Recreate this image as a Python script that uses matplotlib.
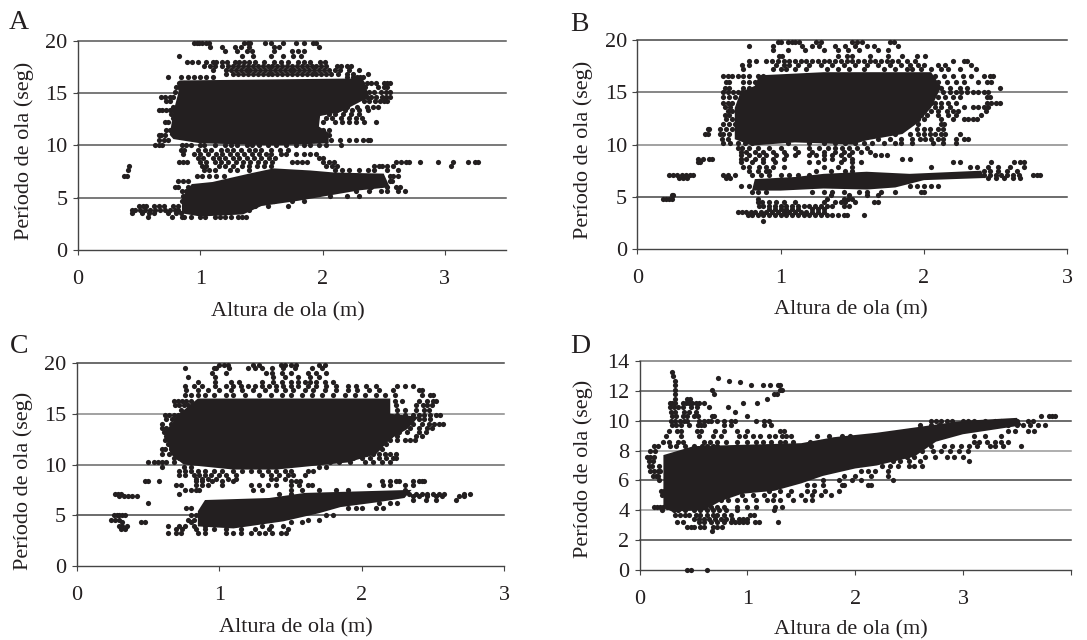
import matplotlib
matplotlib.use("Agg")
import matplotlib.pyplot as plt

FIG_W, FIG_H = 1087, 640
INK = "#231f20"

plt.rcParams['font.family'] = ['Liberation Serif', 'DejaVu Serif']

x_label = "Altura de ola (m)"
y_label = "Período de ola (seg)"

# Saturated areas where single points cannot be told apart are read as outlines,
# the points around them are read row by row: (period, [heights]).
a_core_x = [0.75, 0.78, 0.82, 0.83, 2.33, 2.38, 2.15, 1.98, 1.97, 2.05, 2.05, 1.60, 1.00, 0.78]
a_core_y = [11.0, 13.2, 15.0, 16.2, 16.4, 14.6, 13.2, 12.8, 11.8, 11.2, 10.2, 10.0, 10.2, 10.6]
a_low_x = [0.85, 0.85, 0.93, 1.10, 1.40, 1.60, 1.90, 2.10, 2.50, 2.55, 2.30, 2.05, 1.80, 1.50, 1.35, 1.00]
a_low_y = [3.5, 5.0, 6.3, 6.5, 7.3, 7.8, 7.6, 7.4, 7.3, 6.0, 5.7, 5.2, 4.7, 4.2, 3.4, 3.2]
a_rows = [
    (19.8, [.95, .97, .99, 1.01, 1.05, 1.07, 1.36, 1.39, 1.41, 1.53, 1.58, 1.68, 1.78, 1.85, 1.92, 1.95]),
    (19.4, [1.08, 1.18, 1.28, 1.33, 1.40, 1.60, 1.64, 1.97]),
    (19.0, [1.20, 1.30, 1.38, 1.42, 1.60, 1.75, 1.85, 1.80]),
    (18.5, [.83, 1.34, 1.43, 1.58, 1.68, 1.76, 1.82]),
    (18.0, [.89, .93, .98, 1.05, 1.10, 1.13, 1.18, 1.22, 1.28, 1.32, 1.36, 1.40, 1.45, 1.52, 1.60, 1.66, 1.72, 1.80, 1.85, 1.90, 1.98, 2.02]),
    (17.6, [1.03, 1.08, 1.12, 1.18, 1.23, 1.27, 1.31, 1.35, 1.39, 1.43, 1.47, 1.51, 1.55, 1.59, 1.63, 1.67, 1.71, 1.75, 1.79, 1.83, 1.87, 1.91, 1.95, 1.99, 2.03, 2.12, 2.15, 2.20, 2.23]),
    (17.2, [1.10, 1.21, 1.25, 1.29, 1.33, 1.37, 1.41, 1.45, 1.49, 1.53, 1.57, 1.61, 1.65, 1.69, 1.73, 1.77, 1.81, 1.85, 1.89, 1.93, 1.97, 2.01, 2.05, 2.10, 2.14, 2.22, 2.30]),
    (16.8, [1.21, 1.27, 1.31, 1.35, 1.39, 1.43, 1.47, 1.51, 1.55, 1.59, 1.63, 1.67, 1.71, 1.75, 1.79, 1.83, 1.87, 1.91, 1.95, 1.99, 2.03, 2.07, 2.13, 2.20, 2.25, 2.37]),
    (16.5, [.74, .84, .90, .95, 1.00, 1.05, 1.10, 2.20, 2.25, 2.28, 2.31, 2.33]),
    (16.0, [.83, .87, 2.32, 2.36, 2.40, 2.44, 2.50, 2.53, 2.55]),
    (15.6, [.80, .83, 2.35, 2.45, 2.50, 2.53]),
    (15.1, [.79, 2.35, 2.38, 2.42, 2.48, 2.52, 2.55]),
    (14.6, [.68, .71, .75, .78, 2.36, 2.40, 2.44, 2.49, 2.52, 2.55]),
    (14.2, [.72, .75, 2.34, 2.38, 2.43, 2.47, 2.50, 2.53]),
    (13.7, [.78, 2.12, 2.20, 2.28, 2.36, 2.41, 2.45]),
    (13.4, [.66, .69, .72, .75, .78, 2.12, 2.18, 2.24, 2.30, 2.37]),
    (13.0, [.76, 2.05, 2.10, 2.17, 2.23, 2.30]),
    (12.6, [.78, 2.03, 2.08, 2.15, 2.22, 2.27, 2.32]),
    (12.2, [.74, .71, 2.00, 2.10, 2.16, 2.22, 2.27, 2.34, 2.44]),
    (11.5, [.72, .75, 2.00, 2.05]),
    (11.0, [.66, .68, .71, 2.05]),
    (10.5, [.66, .70, .74, 2.07, 2.14, 2.22, 2.27, 2.33, 2.37, 2.39]),
    (10.0, [.63, .66, .69, .85, .88, .92, 1.00, 1.03, 1.12, 1.20, 1.25, 1.30, 1.38, 1.42, 1.48, 1.55, 1.62, 1.70, 1.78, 1.85, 1.90, 1.97, 2.03, 2.15]),
    (9.6, [.84, .87, .98, 1.04, 1.09, 1.17, 1.22, 1.27, 1.33, 1.40, 1.45, 1.50, 1.58, 1.65, 1.72]),
    (9.2, [.86, .95, 1.00, 1.06, 1.13, 1.18, 1.24, 1.30, 1.36, 1.42, 1.48, 1.54, 1.58, 1.66, 1.70, 1.78, 1.85, 1.90, 1.95]),
    (8.8, [.98, 1.02, 1.10, 1.15, 1.20, 1.27, 1.32, 1.38, 1.44, 1.50, 1.56, 1.61, 1.97, 2.00]),
    (8.4, [.83, .86, .89, 1.00, 1.05, 1.12, 1.17, 1.23, 1.29, 1.35, 1.41, 1.47, 1.53, 1.59, 1.75, 1.79, 1.83, 1.87, 2.00, 2.05, 2.09, 2.60, 2.64, 2.68, 2.71, 2.80, 2.94, 3.07, 3.19, 3.25, 3.27]),
    (8.0, [.42, 1.01, 1.05, 1.15, 1.20, 1.27, 1.34, 1.40, 1.46, 1.52, 1.58, 2.03, 2.08, 2.12, 2.42, 2.46, 2.49, 2.53, 2.58, 3.05]),
    (7.6, [.41, 1.03, 1.07, 1.12, 1.24, 1.30, 1.40, 2.10, 2.16, 2.22, 2.30, 2.37, 2.42, 2.53, 2.62]),
    (7.1, [.38, .40, .97, 1.01, 1.07, 1.13, 1.19, 2.15, 2.55, 2.58, 2.62]),
    (6.6, [.82, .86, .90, 2.55, 2.57]),
    (6.0, [.79, .82, .90, 2.30, 2.40, 2.53, 2.60, 2.63]),
    (5.6, [.85, .88, 2.27, 2.38, 2.48, 2.53, 2.62, 2.67]),
    (5.2, [.86, 2.06, 2.20, 2.30]),
    (4.7, [.85, 1.60, 1.75, 1.85]),
    (4.2, [.50, .53, .56, .62, .66, .70, .78, .82, 1.45, 1.55, 1.72]),
    (3.8, [.44, .47, .51, .55, .59, .63, .67, .71, .75, .79, .82, 1.40]),
    (3.5, [.44, .52, .58, .62, .74, .80, .84]),
    (3.2, [.57, .77, .85, .87, .92, 1.00, 1.04, 1.12, 1.16, 1.20, 1.25, 1.31, 1.34, 1.37]),
]

b_core_x = [0.68, 0.68, 0.72, 0.82, 0.85, 1.30, 2.05, 2.12, 2.05, 1.95, 1.85, 1.60, 1.50, 1.10, 0.80]
b_core_y = [10.5, 13.5, 15.0, 15.6, 16.6, 16.9, 16.9, 15.5, 13.5, 12.0, 11.0, 10.4, 10.0, 10.2, 9.9]
b_low_x = [0.80, 0.82, 1.10, 1.30, 1.60, 1.90, 2.40, 2.42, 2.00, 1.80, 1.60, 1.30, 1.00]
b_low_y = [5.6, 6.7, 6.9, 7.2, 7.4, 7.2, 7.5, 6.8, 6.6, 5.9, 5.7, 5.8, 5.6]
b_rows = [
    (19.8, [.98, 1.00, 1.05, 1.08, 1.10, 1.13, 1.25, 1.28, 1.50, 1.53, 1.57, 1.76, 1.79]),
    (19.4, [.78, .95, 1.15, 1.22, 1.27, 1.38, 1.45, 1.52, 1.60, 1.65, 1.82]),
    (19.0, [.95, 1.05, 1.17, 1.30, 1.40, 1.47, 1.55, 1.68, 1.75]),
    (18.4, [.99, 1.01, 1.40, 1.46, 1.50, 1.62, 1.75, 1.85, 1.95, 2.01]),
    (18.0, [.78, .83, .90, .94, .98, 1.02, 1.06, 1.10, 1.14, 1.18, 1.22, 1.26, 1.30, 1.34, 1.38, 1.42, 1.46, 1.50, 1.54, 1.58, 1.62, 1.66, 1.70, 1.74, 1.78, 1.82, 1.88, 1.94, 2.20, 2.28, 2.30]),
    (17.6, [.73, .78, .97, 1.02, 1.06, 1.12, 1.20, 1.28, 1.36, 1.44, 1.52, 1.60, 1.68, 1.76, 1.84, 1.90, 1.96, 2.00, 2.10, 2.15, 2.33]),
    (17.2, [.74, .95, 1.00, 1.04, 1.10, 1.18, 1.32, 1.40, 1.48, 1.58, 1.72, 1.80, 1.88, 1.92, 1.98, 2.05, 2.12, 2.17, 2.25, 2.36]),
    (16.5, [.60, .63, .66, .70, .74, .78, .84, .88, 2.08, 2.14, 2.20, 2.27, 2.33, 2.42, 2.46, 2.48]),
    (16.0, [.62, .64, .74, .78, .82, 2.10, 2.16, 2.22, 2.28, 2.38, 2.44, 2.47]),
    (15.4, [.61, .64, .74, .78, 2.12, 2.18, 2.25, 2.30, 2.53]),
    (15.0, [.60, .63, .67, .70, .73, 2.13, 2.18, 2.22, 2.26, 2.30, 2.34, 2.38, 2.42, 2.45]),
    (14.5, [.60, .64, .68, .72, 2.10, 2.15, 2.20, 2.25, 2.44, 2.46]),
    (14.0, [.60, .63, .66, 2.05, 2.08, 2.12, 2.17, 2.22, 2.44, 2.47, 2.50, 2.53]),
    (13.6, [.61, .65, 2.02, 2.08, 2.12, 2.18, 2.28, 2.34, 2.38, 2.42, 2.45]),
    (13.2, [.63, .66, 2.00, 2.05, 2.10, 2.16, 2.20, 2.24, 2.43]),
    (12.8, [.61, .64, 1.98, 2.02, 2.10, 2.17, 2.22, 2.40]),
    (12.4, [.62, .66, 1.96, 2.00, 2.12, 2.20, 2.28, 2.31, 2.34, 2.37]),
    (12.0, [.60, .64, .68, 1.96, 2.12, 2.14]),
    (11.5, [.58, .62, .66, .50, .49, 1.95, 2.00, 2.04, 2.10, 2.13]),
    (11.0, [.58, .60, .64, .47, .49, 1.80, 1.90, 1.96, 2.00, 2.04, 2.08, 2.12, 2.15, 2.25]),
    (10.5, [.59, .63, 1.55, 1.68, 1.76, 1.84, 1.92, 1.97, 2.01, 2.05, 2.10, 2.13, 2.22, 2.28, 2.31]),
    (10.1, [.60, .65, .70, .75, .80, 1.05, 1.20, 1.30, 1.38, 1.45, 1.52, 1.58, 1.64, 1.72, 1.80, 1.84, 1.92, 2.06, 2.13, 2.22]),
    (9.7, [.70, .73, .78, .84, .92, 1.00, 1.10, 1.20, 1.27, 1.33, 1.38, 1.43, 1.48, 1.53, 1.60]),
    (9.3, [.72, .76, .82, .88, .95, 1.02, 1.12, 1.22, 1.30, 1.38, 1.44, 1.50, 1.56, 1.62]),
    (9.0, [.72, .78, .85, .90, .97, 1.04, 1.10, 1.20, 1.25, 1.30, 1.36, 1.42, 1.48, 1.66, 1.70, 1.74]),
    (8.6, [.42, .46, .50, .52, .72, .76, .82, .88, .95, 1.02, 1.30, 1.36, 1.44, 1.50, 1.85, 1.90]),
    (8.3, [.42, .44, .72, .80, .88, .96, 1.20, 1.26, 1.42, 1.50, 1.56, 2.20, 2.25, 2.47, 2.63, 2.67, 2.70]),
    (7.9, [.74, .78, .85, .90, .95, 1.02, 1.30, 1.40, 1.50, 2.05, 2.32, 2.37, 2.45, 2.52, 2.60, 2.70]),
    (7.5, [.78, .84, .90, .92, 1.25, 1.35, 1.45, 1.50, 2.42, 2.46, 2.52, 2.58, 2.65]),
    (7.1, [.22, .25, .28, .31, .34, .37, .39, .60, .63, .68, .80, .86, .92, 1.00, 1.06, 1.12, 1.20, 2.42, 2.46, 2.50, 2.54, 2.58, 2.62, 2.66, 2.76, 2.79, 2.81]),
    (6.8, [.29, .32, .35, .62, .65, 2.45, 2.50, 2.56, 2.62, 2.67]),
    (6.0, [.72, .78, 2.05, 2.10, 1.90, 1.95, 2.00]),
    (5.5, [.80, .84, .90, 1.22, 1.30, 1.36, 1.44, 1.55, 1.60, 1.70, 1.80, 1.98, 2.00]),
    (5.2, [.24, .25, 1.35, 1.48, 1.60, 1.68]),
    (4.8, [.18, .20, .22, .24, .84, 1.32, 1.44, 1.47, 1.50]),
    (4.5, [.84, .87, .92, .97, 1.02, 1.10, 1.30, 1.38, 1.42, 1.45, 1.52, 1.65, 1.68]),
    (4.1, [.85, .88, .92, .96, 1.00, 1.04, 1.08, 1.12, 1.16, 1.20, 1.24, 1.28, 1.32, 1.36, 1.44, 1.48]),
    (3.8, [.92, .96, 1.00, 1.04, 1.08, 1.12, 1.22, 1.26, 1.30]),
    (3.6, [.70, .73, .76, .79, .82, .86, .90, .94, .98, 1.02, 1.06, 1.10, 1.14, 1.18, 1.22, 1.26, 1.30]),
    (3.3, [.77, .80, .84, .88, .92, .96, 1.00, 1.04, 1.08, 1.12, 1.16, 1.20, 1.24, 1.28, 1.32, 1.36, 1.40, 1.44, 1.46, 1.58]),
    (2.7, [.88]),
]

c_core_x = [0.66, 0.62, 0.72, 0.85, 2.20, 2.20, 2.40, 2.32, 2.20, 2.10, 1.90, 1.40, 1.10, 0.75]
c_core_y = [11.0, 13.2, 15.0, 16.5, 16.5, 15.0, 14.7, 13.5, 12.5, 11.0, 10.2, 9.5, 9.5, 10.0]
c_low_x = [0.85, 0.85, 0.90, 1.35, 1.60, 2.10, 2.35, 2.30, 2.12, 1.85, 1.70, 1.45, 1.10]
c_low_y = [3.9, 5.4, 6.5, 6.7, 7.2, 7.4, 7.5, 6.7, 6.3, 5.8, 5.2, 4.4, 3.7]
c_rows = [
    (19.8, [1.00, 1.03, 1.06, 1.24, 1.28, 1.43, 1.46, 1.50, 1.54, 1.70, 1.74]),
    (19.5, [.76, .96, .98, 1.07, 1.20, 1.25, 1.30, 1.37, 1.45, 1.53, 1.65, 1.72]),
    (19.0, [.95, 1.05, 1.33, 1.37, 1.44, 1.50, 1.62, 1.68, 1.75]),
    (18.6, [.78, .97, 1.38, 1.46, 1.55, 1.64, 1.70]),
    (18.1, [.85, .97, 1.08, 1.14, 1.30, 1.38, 1.44, 1.50, 1.55, 1.60, 1.64, 1.68, 1.74, 1.80]),
    (17.7, [.76, .82, .88, .97, 1.05, 1.10, 1.15, 1.20, 1.25, 1.30, 1.35, 1.40, 1.45, 1.50, 1.55, 1.62, 1.68, 1.75, 1.82, 1.90, 1.96, 2.03, 2.10, 2.25, 2.30, 2.36]),
    (17.3, [.77, .85, .92, 1.00, 1.08, 1.16, 1.24, 1.32, 1.40, 1.46, 1.52, 1.60, 1.66, 1.74, 1.82, 1.90, 1.97, 2.05, 2.12, 2.22, 2.40, 2.42]),
    (16.8, [.76, .80, .85, .90, .96, 1.05, 1.10, 1.18, 1.28, 1.36, 1.44, 1.50, 1.58, 1.65, 1.72, 1.80, 1.88, 1.95, 2.02, 2.10, 2.16, 2.23, 2.42, 2.48, 2.50]),
    (16.3, [.68, .71, .74, .77, .80, 2.23, 2.28, 2.40, 2.46, 2.50, 2.52]),
    (15.9, [.69, .72, .75, .78, .82, 2.24, 2.38, 2.43, 2.46, 2.49]),
    (15.4, [.73, .78, .80, 2.25, 2.30, 2.38, 2.44, 2.47]),
    (14.9, [.62, .65, .68, .71, .74, 2.25, 2.30, 2.36, 2.40, 2.44, 2.48, 2.52, 2.55]),
    (14.5, [.63, .67, .70, 2.35, 2.40, 2.44, 2.48]),
    (14.0, [.60, .66, 2.30, 2.36, 2.42, 2.47, 2.51, 2.54, 2.57]),
    (13.6, [.60, .63, 2.28, 2.34, 2.40, 2.46, 2.49]),
    (13.2, [.61, .64, 2.26, 2.32, 2.40, 2.45]),
    (12.8, [.63, 2.20, 2.25, 2.38, 2.42]),
    (12.4, [.62, .65, 2.14, 2.20, 2.25, 2.30, 2.34, 2.37]),
    (12.0, [.64, 2.06, 2.12, 2.17]),
    (11.5, [.60, .62, .66, 2.00, 2.08, 2.14]),
    (11.0, [.60, .65, .70, 1.93, 1.98, 2.03, 2.08, 2.12, 2.16, 2.20, 2.24]),
    (10.6, [.68, .72, 1.82, 1.88, 1.94, 2.00, 2.06, 2.12, 2.17, 2.22, 2.24]),
    (10.2, [.50, .54, .57, .60, .63, .68, 1.78, 1.84, 1.92, 2.02, 2.08, 2.14, 2.20]),
    (9.8, [.60, .75, .80, 1.70, 1.75]),
    (9.4, [.72, .76, .80, .85, .90, .96, 1.02, 1.10, 1.16, 1.22, 1.28, 1.34, 1.40, 1.46, 1.50, 1.62, 1.66]),
    (9.0, [.72, .76, .82, .86, .90, .94, 1.00, 1.05, 1.12, 1.30, 1.36, 1.42, 1.48, 1.52, 1.60]),
    (8.6, [.84, .88, .92, .98, 1.06, 1.12, 1.36, 1.40, 1.46]),
    (8.4, [.48, .50, .58, .84, .88, .95, 1.02, 1.10, 1.50, 1.54, 1.57, 2.14, 2.20, 2.24, 2.26, 2.36, 2.40, 2.42, 2.44]),
    (8.0, [.70, .73, .84, .88, .92, 1.02, 1.22, 1.28, 1.34, 1.40, 1.50, 1.56, 1.62, 1.65, 2.05, 2.15, 2.20, 2.30, 2.36]),
    (7.5, [.76, .80, .84, .86, 1.24, 1.30, 1.50, 1.58, 1.70, 1.82, 1.90, 2.30]),
    (7.1, [.27, .29, .31, .72, 1.42, 1.50, 2.33, 2.38, 2.42, 2.46, 2.50, 2.54, 2.58, 2.72, 2.76]),
    (6.9, [.30, .33, .36, .39, .42, 2.36, 2.40, 2.46, 2.52, 2.56, 2.68, 2.72]),
    (6.5, [2.36, 2.45, 2.52, 2.66]),
    (6.2, [.50, 2.12, 2.20, 2.25]),
    (5.7, [.77, .80, 1.96, 2.00, 1.90, 2.10, 2.15]),
    (5.0, [.26, .28, .30, .32, .34, .80, .84, 1.75, 1.80]),
    (4.5, [.24, .27, .30, .78, .82, 1.62, 1.70]),
    (4.3, [.32, .45, .48, .80, 1.50, 1.58]),
    (3.9, [.30, .32, .35, .64, .72, .76, .82, .90, 1.45, 1.30, 1.36]),
    (3.6, [.31, .34, .70, .74, .84, .90, .96, 1.05, 1.15, 1.25, 1.35, 1.48]),
    (3.3, [.64, .70, .73, .85, .90, 1.05, 1.10, 1.15, 1.22, 1.28, 1.32, 1.37, 1.43, 1.47]),
]

d_core_x = [0.22, 0.22, 0.50, 1.00, 1.50, 1.80, 2.20, 2.60, 3.00, 3.50, 3.55, 3.00, 2.75, 2.55, 2.20, 2.00, 1.70, 1.50, 1.25, 0.95, 0.75, 0.60, 0.30]
d_core_y = [4.2, 7.7, 8.3, 8.4, 8.5, 8.9, 9.2, 9.6, 10.0, 10.2, 9.7, 9.1, 8.6, 7.6, 7.0, 6.8, 6.3, 5.8, 5.3, 5.1, 4.6, 4.0, 3.9]
d_rows = [
    (13.3, [.30]), (13.0, [.31]), (12.9, [.73]), (12.7, [.33, .83]), (12.6, [.93]),
    (12.4, [.33, 1.03, 1.14, 1.21, 1.28, 1.30]),
    (12.1, [.33, .67, 1.30, 1.32]),
    (11.8, [.33, .69, 1.27, 1.25]),
    (11.5, [.33, .44, .47, 1.18]),
    (11.2, [.28, .30, .33, .40, .43, .46, .49, .52, .55, .60, .96, 1.09]),
    (10.9, [.28, .32, .36, .40, .48, .53, .64, .82]),
    (10.6, [.29, .33, .41, .46, .52, .88]),
    (10.3, [.30, .34, .40, .44, .50, .54, .67, .69, 1.00]),
    (10.0, [.29, .33, .37, .41, .44, .55, .60, .63, .66, .72, .78, .85, .88, 1.08, 1.15, 1.20, 2.70, 2.75, 2.80, 2.85, 2.90, 3.00, 3.05, 3.10, 3.20, 3.30, 3.35, 3.45, 3.50, 3.60, 3.65]),
    (9.7, [.30, .34, .38, .46, .54, .57, .60, .78, .85, 1.15, 1.22, 2.60, 2.70, 2.78, 3.42, 3.50, 3.56, 3.62, 3.70, 3.76]),
    (10.3, [3.72, 3.80, 3.83, 3.85]),
    (9.3, [.27, .35, .38, .53, .57, .70, .78, .90, 1.00, 1.30, 1.34, 2.50, 3.42, 3.48, 3.60, 3.66]),
    (9.0, [.24, .38, .55, .68, .75, .92, .98, 1.05, 1.12, 1.20, 1.26, 1.32, 1.36, 1.40, 1.65, 1.76, 1.88, 1.95, 3.10, 3.20, 3.35]),
    (8.6, [.22, .27, .36, .40, .60, .65, .72, .80, .90, 1.00, 1.08, 1.14, 1.22, 1.30, 1.35, 1.42, 1.58, 1.68, 1.75, 1.85, 3.10, 3.15, 3.22, 3.30, 3.35, 3.42]),
    (8.3, [.13, .17, .28, .34, .42, .50, .58, .62, .68, .72, 2.60, 2.70, 2.82, 2.90, 2.98, 3.06, 3.13, 3.25, 3.30, 3.37, 3.54]),
    (8.0, [.10, .14, 2.55, 2.62, 2.72, 2.80, 2.88, 2.96, 3.05]),
    (7.6, [.07, .10, .13, 2.48, 2.55, 2.65, 2.74, 2.85, 2.92, 3.00]),
    (7.3, [.09, .12, 2.35, 2.42, 2.50, 2.60, 3.06]),
    (7.0, [.09, .11, .18, 2.25, 2.32, 2.40, 2.50, 2.55, 2.62]),
    (6.6, [.10, .13, .17, .19, 2.05, 2.12, 2.18, 2.30]),
    (6.3, [.12, .15, .17, 1.90, 2.00, 2.15, 2.30]),
    (6.0, [.18, 1.70, 1.85, 1.97, 2.05, 2.35]),
    (5.7, [1.55, 1.62, 1.70, 1.88, 1.90, 2.12, 2.15]),
    (5.3, [.20, .23, 1.20, 1.30, 1.40, 1.55, 1.62, 1.72, 1.85]),
    (5.0, [.21, .24, .95, 1.05, 1.15, 1.25, 1.38, 1.50, 1.60, 1.68, 1.78]),
    (4.7, [.75, .82, .90, .98, 1.08, 1.18, 1.24, 1.30, 1.42, 1.53, 1.60]),
    (4.2, [.13, .16, .19, .22, .25, .28, .60, .66, .72, .78, .90, 1.00, 1.08, 1.26, 1.32]),
    (4.0, [.21, .32, .36, .42, .50, .56, .62, .68, .74, .80, .90, 1.25]),
    (3.7, [.33, .37, .42, .46, .52, .56, .62, .68, .72, .78, .85, 1.02, 1.06]),
    (3.4, [.50, .55, .60, .64, .70, .75, .80, .86, .92, .96, 1.00]),
    (3.2, [.35, .40, .55, .60, .66, .72, .78, .85, .88, .92, .96, 1.00, 1.07, 1.11, 1.28]),
    (2.9, [.44, .48, .50, .56, .60, .68, .72, .76]),
    (2.6, [.67]),
    (0.0, [.44, .48, .62]),
]

# panel letter, core outlines, points, limits, ticks, axes box and text spots in px
panels = [
    ("A", [(a_core_x, a_core_y), (a_low_x, a_low_y)], a_rows, 3.5, 20,
     [0, 1, 2, 3], [0, 5, 10, 15, 20],
     {20: "#555555", 15: "#555555", 10: "#555555", 5: "#555555"},
     (78, 506, 40.7, 250), (9, 29), (288, 312), (24, 151)),
    ("B", [(b_core_x, b_core_y), (b_low_x, b_low_y)], b_rows, 3, 20,
     [0, 1, 2, 3], [0, 5, 10, 15, 20],
     {20: "#444444", 15: "#666666", 10: "#888888", 5: "#444444"},
     (637.3, 1067.3, 39.7, 249.3), (570, 31), (851, 310), (583, 150)),
    ("C", [(c_core_x, c_core_y), (c_low_x, c_low_y)], c_rows, 3, 20,
     [0, 1, 2, 3], [0, 5, 10, 15, 20],
     {20: "#444444", 15: "#888888", 10: "#666666", 5: "#444444"},
     (76.7, 504.3, 363, 566), (10, 353), (295.5, 628), (23, 481)),
    ("D", [(d_core_x, d_core_y)], d_rows, 4, 14,
     [0, 1, 2, 3], [0, 2, 4, 6, 8, 10, 12, 14],
     {14: "#777777", 12: "#555555", 10: "#444444", 8: "#999999", 6: "#444444", 4: "#999999", 2: "#444444"},
     (639.7, 1070.7, 361.3, 569.7), (570, 353), (851, 630), (583, 469)),
]

fig = plt.figure(figsize=(FIG_W / 100, FIG_H / 100), dpi=100)

for letter, cores, rows, xmax, ymax, xticks, yticks, grid, box, lpos, xpos, ypos in panels:
    left, right, top, bottom = box
    ax = fig.add_axes([left / FIG_W, 1 - bottom / FIG_H, (right - left) / FIG_W, (bottom - top) / FIG_H])
    ax.set_xlim(0, xmax)
    ax.set_ylim(0, ymax)
    ax.set_xticks(xticks + ([xmax] if letter == "D" else []))
    ax.set_xticklabels([str(t) for t in xticks] + ([""] if letter == "D" else []))
    ax.set_yticks(yticks)
    ax.tick_params(axis="x", length=3.5, width=0.8, color="#444444", pad=11, labelsize=16, labelcolor=INK)
    ax.tick_params(axis="y", length=3.5, width=0.8, color="#444444", pad=4, labelsize=16, labelcolor=INK)
    for side in ("top", "right"):
        ax.spines[side].set_visible(False)
    for side in ("left", "bottom"):
        ax.spines[side].set_color("#444444")
        ax.spines[side].set_linewidth(1.0)
    for level, col in grid.items():
        ax.axhline(level, color=col, lw=1.1, zorder=1, clip_on=False)

    for cx, cy in cores:
        ax.fill(cx, cy, color=INK, lw=0, zorder=2)
    xs = [x for y, row in rows for x in row]
    ys = [y for y, row in rows for x in row]
    ax.scatter(xs, ys, s=14, marker="o", color=INK, linewidths=0, zorder=3, clip_on=False)

    fig.text(lpos[0] / FIG_W, 1 - lpos[1] / FIG_H, letter, fontsize=20, color=INK, ha="left", va="baseline")
    fig.text(xpos[0] / FIG_W, 1 - xpos[1] / FIG_H, x_label, fontsize=16, color=INK, ha="center", va="center")
    fig.text(ypos[0] / FIG_W, 1 - ypos[1] / FIG_H, y_label, fontsize=16, color=INK, ha="center", va="center", rotation=90)

fig.savefig("out.png", dpi=100)
